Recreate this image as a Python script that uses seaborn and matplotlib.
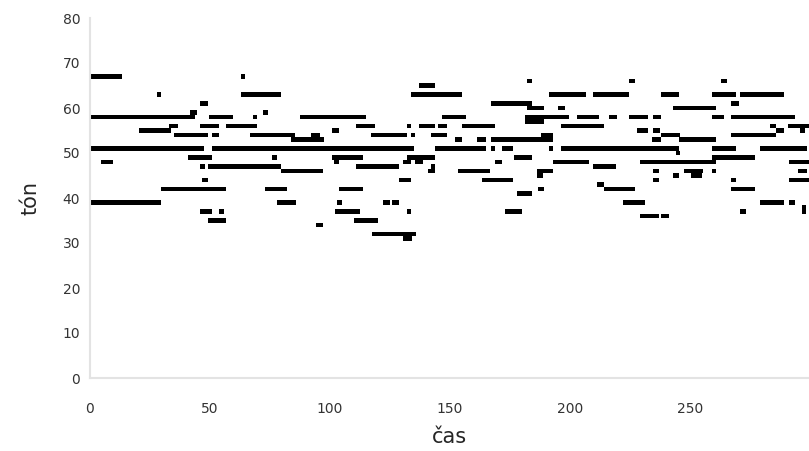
import numpy as np
import pandas as pd
import seaborn as sns
import matplotlib
matplotlib.use("Agg")
import matplotlib.pyplot as plt

# note data: pitch, start time, duration
pitch = [67, 67,
         66, 66, 66,
         65,
         63, 63, 63, 63, 63, 63, 63, 63,
         61, 61, 61,
         60, 60, 60,
         59, 59,
         58, 58, 58, 58, 58, 58, 58, 58, 58, 58, 58, 58,
         57,
         56, 56, 56, 56, 56, 56, 56, 56, 56, 56, 56,
         55, 55, 55, 55, 55, 55,
         54, 54, 54, 54, 54, 54, 54, 54, 54, 54,
         53, 53, 53, 53, 53, 53,
         51, 51, 51, 51, 51, 51, 51, 51, 51,
         50,
         49, 49, 49, 49, 49, 49,
         48, 48, 48, 48, 48, 48, 48, 48,
         47, 47, 47, 47, 47,
         46, 46, 46, 46, 46, 46, 46, 46,
         45, 45, 45,
         44, 44, 44, 44, 44, 44,
         43,
         42, 42, 42, 42, 42, 42,
         41,
         39, 39, 39, 39, 39, 39, 39, 39,
         38,
         37, 37, 37, 37, 37, 37, 37,
         36, 36,
         35, 35,
         34,
         32,
         31]
start = [0, 63,
         182, 224.7, 262.8,
         137,
         28, 62.8, 133.9, 191, 209.7, 237.9, 259, 270.8,
         46, 167, 267.2,
         182, 194.9, 242.8,
         41.7, 72.2,
         0, 49.7, 67.8, 87.6, 146.8, 181.2, 203, 216, 224.7, 234.7, 259, 267.2,
         181.2,
         32.9, 46, 56.5, 110.8, 132, 137, 145, 155, 196, 283.3, 290.9,
         20.3, 100.7, 228, 234.7, 285.8, 295.8,
         35, 51, 66.5, 92, 117, 133.9, 142, 188, 237.9, 267.2,
         83.9, 152, 161, 167, 234, 245.4,
         0, 51, 143.8, 167, 171.8, 191, 196, 259, 278.9,
         244,
         41, 76, 100.7, 132, 176.8, 259,
         4.7, 101.7, 130.5, 135.3, 168.8, 193, 229.2, 291,
         46, 49.3, 110.8, 142, 209.7,
         79.6, 141, 153.2, 186.4, 234.7, 247.6, 259, 295,
         186.4, 242.8, 250.4,
         46.7, 128.9, 163.2, 234.7, 267.2, 291,
         211,
         29.7, 72.9, 103.9, 186.8, 214.2, 267.2,
         178,
         0, 77.8, 102.8, 122, 125.7, 222.2, 278.9, 291,
         296.5,
         46, 53.9, 102, 132, 173, 270.8, 296.5,
         229.2, 237.9,
         49, 110,
         94,
         117.6,
         130.5]
duration = [13.5, 1.7,
            2.3, 2.3, 2.5,
            6.8,
            1.7, 16.8, 21.1, 15.7, 15, 7.5, 10, 18.1,
            3, 17.3, 3.2,
            7.3, 3, 18,
            3, 1.8,
            43.8, 10, 1.9, 27.4, 9.9, 18.5, 9.2, 3.4, 7.7, 3.2, 4.9, 26.3,
            8,
            3.6, 7.9, 13.2, 8, 1.9, 6.8, 3.6, 13.8, 18.3, 2.5, 8.7,
            13.5, 3.2, 4.4, 2.8, 3.1, 2.2,
            14, 2.9, 18.9, 4, 15, 1.6, 6.6, 5, 7.9, 18.6,
            13.7, 3, 4, 26, 3.9, 15.4,
            47.6, 84, 21.2, 1.8, 4.2, 2, 49.4, 10, 19.7,
            1.8,
            10, 1.8, 13.2, 11.8, 7.5, 18,
            5, 2.2, 3.4, 3.6, 3, 14.9, 31.6, 8.6,
            1.8, 30.3, 18, 1.8, 9.5,
            17.4, 2.8, 13.5, 6.4, 2.5, 7.9, 1.8, 3.6,
            2.5, 2.6, 4.5,
            2.3, 5, 12.8, 2.5, 1.8, 8.6,
            3.2,
            26.8, 9.1, 10, 2.5, 12.8, 9.8,
            6.3,
            29.7, 7.9, 2.3, 3, 3, 8.8, 10, 2.5,
            1.7,
            5, 1.9, 10.5, 1.9, 7, 2.5, 1.7,
            8, 3.1,
            7.5, 10,
            3.2,
            18.1,
            3.5]

notes = pd.DataFrame({"pitch": pitch, "start": start, "duration": duration})

sns.set_theme(style="white")
plt.rcParams["font.family"] = ["DejaVu Sans"]

fig = plt.figure(figsize=(8.09, 4.51), dpi=100)
ax = fig.add_axes([90 / 809, 73 / 451, 719 / 809, 360 / 451])

ax.barh(notes["pitch"], notes["duration"], left=notes["start"], height=1.0,
        color="black", linewidth=0)

# the view ends just before 300, so that tick is not drawn
ax.set_xlim(0, 299.5)
ax.set_ylim(0, 80)
ax.set_xticks([0, 50, 100, 150, 200, 250])
ax.set_yticks(range(0, 81, 10))

for side in ["top", "right"]:
    ax.spines[side].set_visible(False)
for side in ["left", "bottom"]:
    ax.spines[side].set_color("#e3e3e3")
    ax.spines[side].set_linewidth(1.5)

ax.tick_params(axis="both", direction="in", length=9, width=1, color="#e3e3e3",
               labelsize=10, labelcolor="#333333")
ax.tick_params(axis="x", pad=17)
ax.tick_params(axis="y", pad=7)

ax.set_xlabel("čas", fontsize=15, labelpad=8)
ax.set_ylabel("tón", fontsize=15, labelpad=16)

fig.savefig("out.png", dpi=100)
